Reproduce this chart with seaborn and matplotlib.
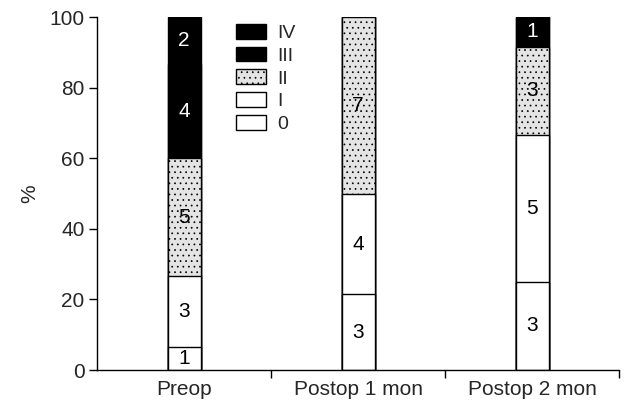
import numpy as np
import pandas as pd
import matplotlib
matplotlib.use("Agg")
import matplotlib.pyplot as plt
import seaborn as sns
from matplotlib.patches import Patch

categories = ["Preop", "Postop 1 mon", "Postop 2 mon"]
grades = ["0", "I", "II", "III", "IV"]
count_0 = [1, 3, 3]
count_I = [3, 4, 5]
count_II = [5, 7, 3]
count_III = [4, 0, 1]
count_IV = [2, 0, 0]
yticks = [0, 20, 40, 60, 80, 100]

sns.set_theme(style="ticks")
plt.rcParams['font.family'] = ['Liberation Sans', 'DejaVu Sans']

counts = np.array([count_0, count_I, count_II, count_III, count_IV], dtype=float)
totals = counts.sum(axis=0)
pct = counts / totals * 100
cum = np.cumsum(pct, axis=0)

styles = {
    "0": dict(color="white", hatch=None),
    "I": dict(color="white", hatch=None),
    "II": dict(color="#e4e4e4", hatch="..."),
    "III": dict(color="black", hatch=None),
    "IV": dict(color="black", hatch=None),
}

fig = plt.figure(figsize=(6.26, 4.08), dpi=100)
ax = fig.add_axes([0.155, 0.093, 0.834, 0.865])

plt.rcParams['hatch.color'] = '#9a9a9a'
plt.rcParams['hatch.linewidth'] = 0.5

for i in range(len(grades) - 1, -1, -1):
    g = grades[i]
    df = pd.DataFrame({"cat": categories, "val": cum[i]})
    sns.barplot(data=df, x="cat", y="val", color=styles[g]["color"], width=0.19,
                edgecolor="black", linewidth=1.0, saturation=1, ax=ax,
                hatch=styles[g]["hatch"])

for j in range(len(categories)):
    for i, g in enumerate(grades):
        if counts[i, j] > 0:
            y = cum[i, j] - pct[i, j] / 2
            col = "white" if g in ("III", "IV") else "black"
            ax.text(j, y, f"{int(counts[i, j])}", ha="center", va="center",
                    fontsize=15, color=col)

ax.set_xlim(-0.5, 2.5)
ax.set_ylim(0, 100)
ax.set_yticks(yticks)
ax.set_xticks([0, 1, 2])
ax.set_xticklabels(categories, fontsize=15)
ax.tick_params(axis="x", length=0, pad=7)
ax.set_xticks([0.5, 1.5, 2.5], minor=True)
ax.tick_params(axis="x", which="minor", length=6, width=1, color="black", direction="out")
ax.tick_params(axis="y", labelsize=15, length=6, width=1, color="black", direction="out", pad=3)
ax.set_xlabel("")
ax.set_ylabel("%", fontsize=15, labelpad=7)
for s in ["top", "right"]:
    ax.spines[s].set_visible(False)
for s in ["left", "bottom"]:
    ax.spines[s].set_color("black")
    ax.spines[s].set_linewidth(1)

handles = []
for g in ["IV", "III", "II", "I", "0"]:
    handles.append(Patch(facecolor=styles[g]["color"], edgecolor="black",
                         hatch=styles[g]["hatch"], label=g))
ax.legend(handles=handles, loc="upper left", bbox_to_anchor=(0.24, 1.02),
          frameon=False, fontsize=14, handlelength=1.55, handleheight=0.8,
          labelspacing=0.24, handletextpad=0.6, borderaxespad=0.3)

fig.savefig("out.png", dpi=100)
